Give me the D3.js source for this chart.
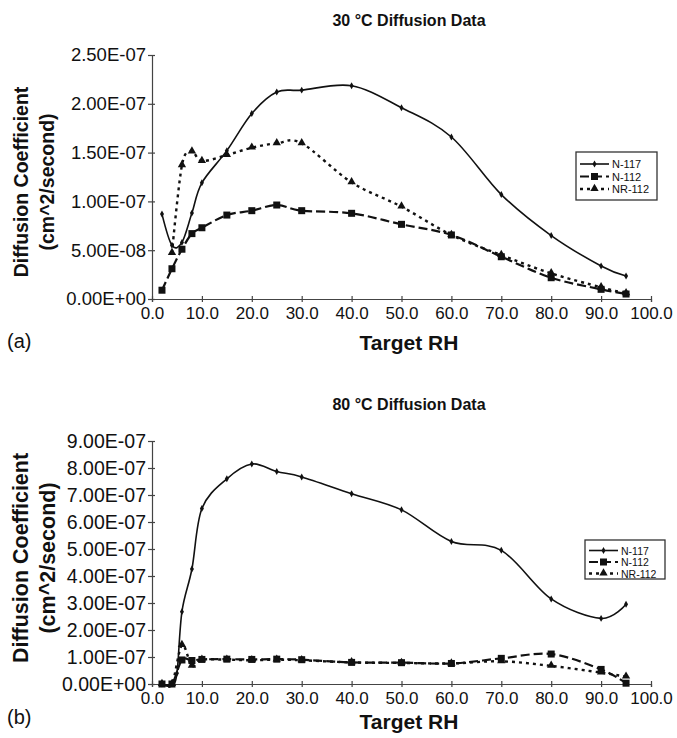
<!DOCTYPE html>
<html>
<head>
<meta charset="utf-8">
<script src="https://cdnjs.cloudflare.com/ajax/libs/d3/7.8.5/d3.min.js"></script>
<style>
  body { margin: 0; background: #fff; }
  text { font-family: "Liberation Sans", Arial, sans-serif; fill: #111; }
</style>
</head>
<body>
<div id="chart"></div>
<script>
// Target RH values (x) and diffusion coefficients (units of 1e-7 cm^2/s)
var rhTop = [2, 4, 6, 8, 10, 15, 20, 25, 30, 40, 50, 60, 70, 80, 90, 95];
var n117Top = [0.87, 0.55, 0.58, 0.88, 1.19, 1.52, 1.90, 2.12, 2.14, 2.185, 1.96, 1.66, 1.07, 0.65, 0.338, 0.236];
var n112Top = [0.09, 0.31, 0.51, 0.67, 0.73, 0.86, 0.905, 0.963, 0.905, 0.878, 0.765, 0.656, 0.433, 0.218, 0.099, 0.051];
var rhNr112Top = [4, 6, 8, 10, 15, 20, 25, 30, 40, 50, 60, 70, 80, 90, 95];
var nr112Top = [0.47, 1.37, 1.51, 1.414, 1.475, 1.55, 1.595, 1.595, 1.195, 0.946, 0.656, 0.45, 0.263, 0.12, 0.058];

var rhN117Bot = [2, 4, 5, 6, 8, 10, 15, 20, 25, 30, 40, 50, 60, 70, 80, 90, 95];
var n117Bot = [0, 0, 0.4, 2.68, 4.26, 6.5, 7.6, 8.15, 7.87, 7.67, 7.05, 6.45, 5.28, 4.95, 3.15, 2.43, 2.95];
var rhBot = [2, 4, 6, 8, 10, 15, 20, 25, 30, 40, 50, 60, 70, 80, 90, 95];
var n112Bot = [0, 0, 0.89, 0.87, 0.91, 0.92, 0.91, 0.92, 0.9, 0.8, 0.79, 0.76, 0.95, 1.11, 0.54, 0.03];
var nr112Bot = [0, 0, 1.44, 0.67, 0.9, 0.9, 0.88, 0.9, 0.88, 0.8, 0.78, 0.76, 0.84, 0.67, 0.42, 0.27];

var seriesNames = ["N-117", "N-112", "NR-112"];
var xTicks = [0, 10, 20, 30, 40, 50, 60, 70, 80, 90, 100];
var yTicksTop = [0, 0.5, 1.0, 1.5, 2.0, 2.5];
var yTicksBot = [0, 1, 2, 3, 4, 5, 6, 7, 8, 9];

var W = 677, H = 738;
var svg = d3.select("#chart").append("svg")
    .attr("width", W)
    .attr("height", H);

function zip(xs, ys) {
  return xs.map(function(x, i) { return {x: x, y: ys[i]}; });
}

// "2.50E-07" style label
function sciFmt(v) {
  var s = (v * 1e-7).toExponential(2).toUpperCase();
  if (v === 0) s = "0.00E+00";
  return s.replace(/E([+-])(\d)$/, "E$10$2");
}

var styles = {
  "N-117":  {dash: null,  width: 1.6, marker: "diamond"},
  "N-112":  {dash: "9,4", width: 2.2, marker: "square"},
  "NR-112": {dash: "3,4", width: 2.4, marker: "triangle"}
};

function drawMarker(g, type, x, y) {
  if (type === "diamond") {
    g.append("path").attr("d", d3.symbol().type(d3.symbolDiamond).size(14)())
      .attr("transform", "translate(" + x + "," + y + ")").attr("fill", "#111");
  } else if (type === "square") {
    g.append("rect").attr("x", x - 3.5).attr("y", y - 3.5)
      .attr("width", 7).attr("height", 7).attr("fill", "#111");
  } else {
    g.append("path").attr("d", d3.symbol().type(d3.symbolTriangle).size(30)())
      .attr("transform", "translate(" + x + "," + (y - 0.5) + ")").attr("fill", "#111");
  }
}

function drawChart(cfg) {
  var g = svg.append("g");
  var x = d3.scaleLinear().domain([0, 100]).range([152, 651]);
  var y = d3.scaleLinear().domain([0, cfg.yMax]).range([cfg.y0, cfg.y1]);

  // title
  g.append("text").attr("x", 409).attr("y", cfg.titleY)
    .attr("text-anchor", "middle").style("font-weight", "bold").style("font-size", "16px")
    .text(cfg.title);

  // axes
  var xAxis = g.append("g").attr("transform", "translate(0," + cfg.y0 + ")")
    .call(d3.axisBottom(x).tickValues(xTicks).tickFormat(function(d) { return d.toFixed(1); })
      .tickSizeOuter(0).tickSize(3).tickPadding(5));
  xAxis.selectAll(".tick line").attr("y1", -3).attr("y2", 3);
  xAxis.selectAll("text").style("font-size", "17px").attr("fill", "#111");
  xAxis.selectAll("path, line").attr("stroke", "#444").attr("stroke-width", 1.2);

  var yAxis = g.append("g").attr("transform", "translate(152,0)")
    .call(d3.axisLeft(y).tickValues(cfg.yTicks).tickFormat(sciFmt)
      .tickSizeOuter(0).tickSize(3).tickPadding(3));
  yAxis.selectAll(".tick line").attr("x1", 3).attr("x2", -4);
  yAxis.selectAll("text").style("font-size", cfg.yFont).attr("fill", "#111");
  yAxis.selectAll("path, line").attr("stroke", "#444").attr("stroke-width", 1.2);

  // axis titles
  var ym = cfg.ylabMid;
  g.append("text").attr("transform", "translate(" + cfg.ylabX1 + "," + ym + ") rotate(-90)")
    .attr("text-anchor", "middle").style("font-weight", "bold").style("font-size", cfg.ylabFont)
    .text("Diffusion Coefficient");
  g.append("text").attr("transform", "translate(" + cfg.ylabX2 + "," + ym + ") rotate(-90)")
    .attr("text-anchor", "middle").style("font-weight", "bold").style("font-size", cfg.ylabFont)
    .text("(cm^2/second)");
  g.append("text").attr("x", 409).attr("y", cfg.xlabY)
    .attr("text-anchor", "middle").style("font-weight", "bold").style("font-size", "21px")
    .text("Target RH");
  g.append("text").attr("x", 7).attr("y", cfg.panelY)
    .style("font-size", "20px").text(cfg.panel);

  // series
  var line = d3.line()
    .x(function(d) { return x(d.x); })
    .y(function(d) { return y(d.y); })
    .curve(d3.curveCatmullRom.alpha(0));

  cfg.series.forEach(function(s) {
    var st = styles[s.name];
    g.append("path").datum(s.data)
      .attr("d", line)
      .attr("fill", "none")
      .attr("stroke", "#111")
      .attr("stroke-width", st.width)
      .attr("stroke-dasharray", st.dash);
    s.data.forEach(function(d) { drawMarker(g, st.marker, x(d.x), y(d.y)); });
  });

  // legend
  var L = cfg.legend;
  g.append("rect").attr("x", L.x).attr("y", L.y).attr("width", L.w).attr("height", L.h)
    .attr("fill", "#fff").attr("stroke", "#333").attr("stroke-width", 1.3);
  seriesNames.forEach(function(name, i) {
    var st = styles[name];
    var ry = L.y + L.top + i * L.step;
    g.append("line").attr("x1", L.x + 4).attr("x2", L.x + 33).attr("y1", ry).attr("y2", ry)
      .attr("stroke", "#111").attr("stroke-width", st.width).attr("stroke-dasharray", st.dash);
    drawMarker(g, st.marker, L.x + 18.5, ry);
    g.append("text").attr("x", L.x + 36).attr("y", ry + 4)
      .style("font-size", L.font).text(name);
  });
}

drawChart({
  title: "30 °C Diffusion Data", titleY: 26,
  yMax: 2.5, y0: 299, y1: 55, yTicks: yTicksTop, yFont: "18.5px",
  ylabX1: 28, ylabX2: 54, ylabFont: "19.5px", ylabMid: 182,
  xlabY: 350, panel: "(a)", panelY: 348,
  series: [
    {name: "N-117", data: zip(rhTop, n117Top)},
    {name: "N-112", data: zip(rhTop, n112Top)},
    {name: "NR-112", data: zip(rhNr112Top, nr112Top)}
  ],
  legend: {x: 576, y: 152, w: 81, h: 48, top: 12, step: 12.5, font: "11px"}
});

drawChart({
  title: "80 °C Diffusion Data", titleY: 410,
  yMax: 9, y0: 684, y1: 441, yTicks: yTicksBot, yFont: "19.5px",
  ylabX1: 28, ylabX2: 55, ylabFont: "21.5px", ylabMid: 558,
  xlabY: 729, panel: "(b)", panelY: 724,
  series: [
    {name: "N-117", data: zip(rhN117Bot, n117Bot)},
    {name: "N-112", data: zip(rhBot, n112Bot)},
    {name: "NR-112", data: zip(rhBot, nr112Bot)}
  ],
  legend: {x: 585, y: 540, w: 80, h: 39, top: 10.5, step: 11.5, font: "10.5px"}
});
</script>
</body>
</html>
